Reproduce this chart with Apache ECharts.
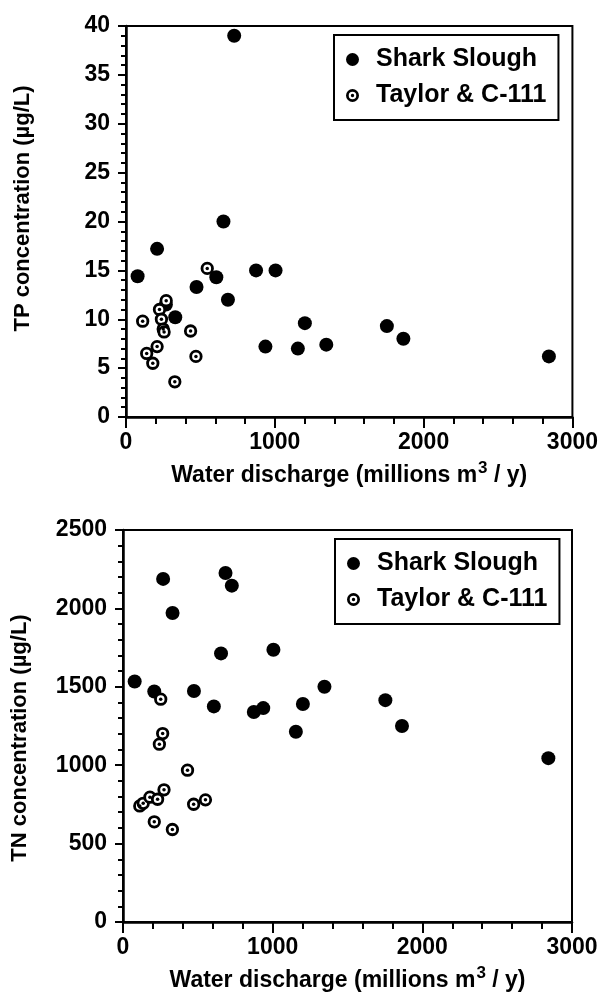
<!DOCTYPE html>
<html>
<head>
<meta charset="utf-8">
<script src="https://cdn.jsdelivr.net/npm/echarts@6/dist/echarts.min.js"></script>
<style>
  html, body { margin: 0; padding: 0; background: #fff; }
  #chart { width: 601px; height: 998px; }
</style>
</head>
<body>
<div id="chart"></div>
<script>
// Shark Slough (filled circles) - discharge, TP, TN
var sharkQ  = [78, 209, 268, 331, 474, 607, 655, 685, 727, 874, 937, 1005, 1155, 1202, 1346, 1753, 1864, 2842];
var sharkTP = [14.4, 17.2, 11.5, 10.2, 13.3, 14.3, 20.0, 12.0, 39.0, 15.0, 7.2, 15.0, 7.0, 9.6, 7.4, 9.3, 8.0, 6.2];
var sharkTN = [1534, 1470, 2188, 1971, 1473, 1375, 1713, 2226, 2145, 1339, 1364, 1736, 1213, 1390, 1500, 1415, 1250, 1045];

// Taylor & C-111 (open circles)
var taylorQtp = [112, 139, 180, 209, 225, 238, 250, 256, 270, 328, 434, 470, 546];
var taylorTP  = [9.8, 6.5, 5.5, 7.2, 11.0, 10.0, 9.0, 8.7, 11.9, 3.6, 8.8, 6.2, 15.2];
var taylorQtn = [112, 135, 180, 209, 231, 243, 252, 265, 274, 330, 431, 472, 551];
var taylorTN  = [740, 757, 796, 639, 783, 1134, 1421, 1202, 843, 590, 968, 751, 779];

var xTicks = [0, 1000, 2000, 3000];

var FONT = "'Liberation Sans', Arial, Helvetica, sans-serif";
var ringPath = "path://M0,-10A10,10 0 1,1 0,10A10,10 0 1,1 0,-10ZM0,-5.8A5.8,5.8 0 1,0 0,5.8A5.8,5.8 0 1,0 0,-5.8ZM0,-2.6A2.6,2.6 0 1,1 0,2.6A2.6,2.6 0 1,1 0,-2.6Z";

function pairs(xs, ys) {
  return xs.map(function (x, i) { return [x, ys[i]]; });
}

var chartDom = echarts.init(document.getElementById("chart"));

function xAxisCfg(gridIndex) {
  return {
    type: "value",
    gridIndex: gridIndex,
    min: xTicks[0],
    max: xTicks[xTicks.length - 1],
    interval: 1000,
    splitLine: { show: false },
    axisLine: { lineStyle: { color: "#000", width: 2.5 } },
    axisTick: { show: true, length: 11, lineStyle: { color: "#000", width: 2 } },
    minorTick: { show: true, splitNumber: 5, length: 7, lineStyle: { color: "#000", width: 2 } },
    axisLabel: {
      color: "#000", fontSize: 23, fontWeight: "bold", fontFamily: FONT, margin: 14,
      formatter: function (v) { return String(v); }
    },
    name: "{t|Water discharge (millions m}{s|3}{t| / y)}",
    nameLocation: "middle",
    nameGap: 44,
    nameTextStyle: {
      rich: {
        t: { fontSize: 23, fontWeight: "bold", fontFamily: FONT, color: "#000", lineHeight: 26, verticalAlign: "bottom" },
        s: { fontSize: 17, fontWeight: "bold", fontFamily: FONT, color: "#000", lineHeight: 17, verticalAlign: "bottom", padding: [0, 0, 10, 1] }
      }
    }
  };
}

function yAxisCfg(gridIndex, max, interval, name, namePad) {
  return {
    type: "value",
    gridIndex: gridIndex,
    min: 0,
    max: max,
    interval: interval,
    splitLine: { show: false },
    axisLine: { lineStyle: { color: "#000", width: 2.5 } },
    axisTick: { show: true, length: 8, lineStyle: { color: "#000", width: 2 } },
    minorTick: { show: true, splitNumber: 5, length: 5, lineStyle: { color: "#000", width: 2 } },
    axisLabel: {
      color: "#000", fontSize: 23, fontWeight: "bold", fontFamily: FONT, margin: 16,
      formatter: function (v) { return String(v); }
    },
    name: name,
    nameLocation: "middle",
    nameGap: 92,
    nameTextStyle: { color: "#000", fontSize: 22, fontWeight: "bold", fontFamily: FONT, padding: namePad }
  };
}

function legendCfg(left, top) {
  return {
    orient: "vertical",
    left: left,
    top: top,
    padding: [12, 12, 12, 12],
    itemGap: 11,
    itemWidth: 13,
    itemHeight: 13,
    borderColor: "#000",
    borderWidth: 2,
    borderRadius: 0,
    textStyle: { color: "#000", fontSize: 25, fontWeight: "bold", fontFamily: FONT, padding: [0, 0, 0, 12] },
    data: [
      { name: "Shark Slough", icon: "circle", itemStyle: { color: "#000", borderWidth: 0 } },
      { name: "Taylor & C-111", icon: ringPath, itemStyle: { color: "#000", borderWidth: 0 } }
    ]
  };
}

function sharkSeries(idx, ys) {
  return {
    name: "Shark Slough",
    type: "scatter",
    xAxisIndex: idx,
    yAxisIndex: idx,
    symbol: "circle",
    symbolSize: 14,
    itemStyle: { color: "#000", opacity: 1 },
    data: pairs(sharkQ, ys),
    z: 2
  };
}

function taylorSeries(idx, xs, ys) {
  return [
    {
      name: "Taylor & C-111",
      type: "scatter",
      xAxisIndex: idx,
      yAxisIndex: idx,
      symbol: "circle",
      symbolSize: 10.5,
      itemStyle: { color: "#fff", borderColor: "#000", borderWidth: 2.8, opacity: 1 },
      data: pairs(xs, ys),
      z: 3
    },
    {
      name: "Taylor & C-111",
      type: "scatter",
      xAxisIndex: idx,
      yAxisIndex: idx,
      symbol: "circle",
      symbolSize: 3.5,
      itemStyle: { color: "#000", opacity: 1 },
      data: pairs(xs, ys),
      z: 4,
      silent: true
    }
  ];
}

var option = {
  animation: false,
  backgroundColor: "#fff",
  grid: [
    { left: 126, right: 28, top: 26, bottom: 581, show: true, borderColor: "#000", borderWidth: 2 },
    { left: 123, right: 29, top: 530, bottom: 76, show: true, borderColor: "#000", borderWidth: 2 }
  ],
  xAxis: [xAxisCfg(0), xAxisCfg(1)],
  yAxis: [
    yAxisCfg(0, 40, 5, "TP concentration (µg/L)", [0, 0, 0, 26]),
    yAxisCfg(1, 2500, 500, "TN concentration (µg/L)", [0, 24, 0, 0])
  ],
  legend: [legendCfg(334, 35), legendCfg(335, 539)],
  series: [sharkSeries(0, sharkTP)]
    .concat(taylorSeries(0, taylorQtp, taylorTP))
    .concat([sharkSeries(1, sharkTN)])
    .concat(taylorSeries(1, taylorQtn, taylorTN))
};

// 绘制图表
chartDom.setOption(option);
</script>
</body>
</html>
